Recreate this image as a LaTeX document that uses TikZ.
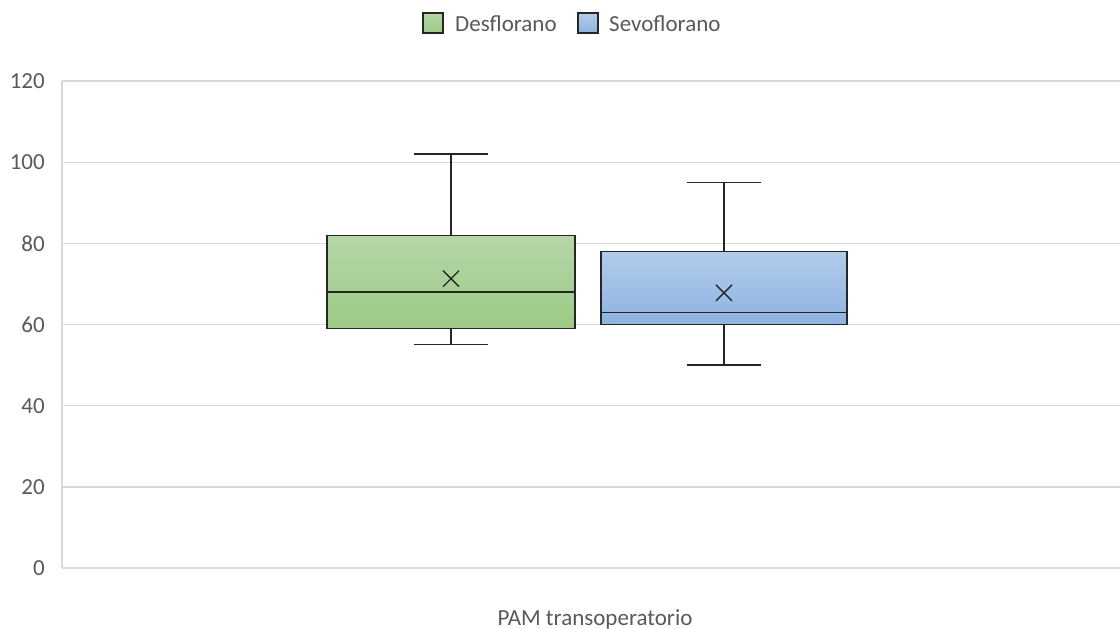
\documentclass[tikz,border=0pt]{standalone}
\usepackage{fontspec}
\setmainfont{Carlito}
\definecolor{gridgray}{HTML}{D9D9D9}
\definecolor{labelgray}{HTML}{595959}
\definecolor{edge}{HTML}{262626}
\definecolor{greenTop}{HTML}{B6D6A8}
\definecolor{greenBot}{HTML}{9CCA85}
\definecolor{blueTop}{HTML}{B2CCE9}
\definecolor{blueBot}{HTML}{8DB3E2}
\begin{document}
\begin{tikzpicture}[x=1pt,y=-1pt,
  grid/.style={draw=gridgray,line width=1.4pt},
  lbl/.style={text=labelgray,font=\fontsize{23}{26}\selectfont,inner sep=0pt},
  whisk/.style={draw=edge,line width=1.3pt},
  boxg/.style={draw=edge,line width=1.3pt,top color=greenTop,bottom color=greenBot},
  boxb/.style={draw=edge,line width=1.3pt,top color=blueTop,bottom color=blueBot},
  meanmark/.style={draw=edge,line width=1.3pt}]
\useasboundingbox (0,0) rectangle (1120,629);
% value v maps to y = 568 - 4.058 v
\pgfmathsetmacro{\ys}{4.058}
% grid lines and axis labels
\foreach \v in {0,20,...,120}{
  \pgfmathsetmacro{\yy}{568-\ys*\v}
  \draw[grid] (62,\yy) -- (1120,\yy);
  \node[lbl,anchor=east] (tick\v) at (45,\yy) {\v};
}
\draw[grid] (62,81) -- (62,568);
% Desflorano: min 55, Q1 59, median 68, Q3 82, max 102, mean 71.3
\coordinate (dtop) at (451,{568-\ys*102});
\coordinate (dq3) at (451,{568-\ys*82});
\coordinate (dq1) at (451,{568-\ys*59});
\coordinate (dbot) at (451,{568-\ys*55});
\draw[whisk] (dtop) -- (dq3);
\draw[whisk] (dq1) -- (dbot);
\draw[whisk] ([xshift=-37pt]dtop) -- ([xshift=37pt]dtop);
\draw[whisk] ([xshift=-37pt]dbot) -- ([xshift=37pt]dbot);
\draw[boxg] (327,{568-\ys*82}) rectangle (575,{568-\ys*59});
\draw[whisk] (327,{568-\ys*68}) -- (575,{568-\ys*68});
\coordinate (dmean) at (451,{568-\ys*71.3});
\draw[meanmark] ([shift={(-8,-8)}]dmean) -- ([shift={(8,8)}]dmean)
                ([shift={(-8,8)}]dmean) -- ([shift={(8,-8)}]dmean);
% Sevoflorano: min 50, Q1 60, median 63, Q3 78, max 95, mean 67.8
\coordinate (stop) at (724,{568-\ys*95});
\coordinate (sq3) at (724,{568-\ys*78});
\coordinate (sq1) at (724,{568-\ys*60});
\coordinate (sbot) at (724,{568-\ys*50});
\draw[whisk] (stop) -- (sq3);
\draw[whisk] (sq1) -- (sbot);
\draw[whisk] ([xshift=-37pt]stop) -- ([xshift=37pt]stop);
\draw[whisk] ([xshift=-37pt]sbot) -- ([xshift=37pt]sbot);
\draw[boxb] (601,{568-\ys*78}) rectangle (847,{568-\ys*60});
\draw[whisk] (601,{568-\ys*63}) -- (847,{568-\ys*63});
\coordinate (smean) at (724,{568-\ys*67.8});
\draw[meanmark] ([shift={(-8,-8)}]smean) -- ([shift={(8,8)}]smean)
                ([shift={(-8,8)}]smean) -- ([shift={(8,-8)}]smean);
% category label
\node[lbl] (cat) at (595,619) {PAM transoperatorio};
% legend
\draw[boxg,line width=1.2pt] (423,13) rectangle (443,33);
\node[lbl,anchor=west] (legD) at (455,24) {Desflorano};
\draw[boxb,line width=1.2pt] (578,13) rectangle (598,33);
\node[lbl,anchor=west] (legS) at (609,24) {Sevoflorano};
\end{tikzpicture}
\end{document}
